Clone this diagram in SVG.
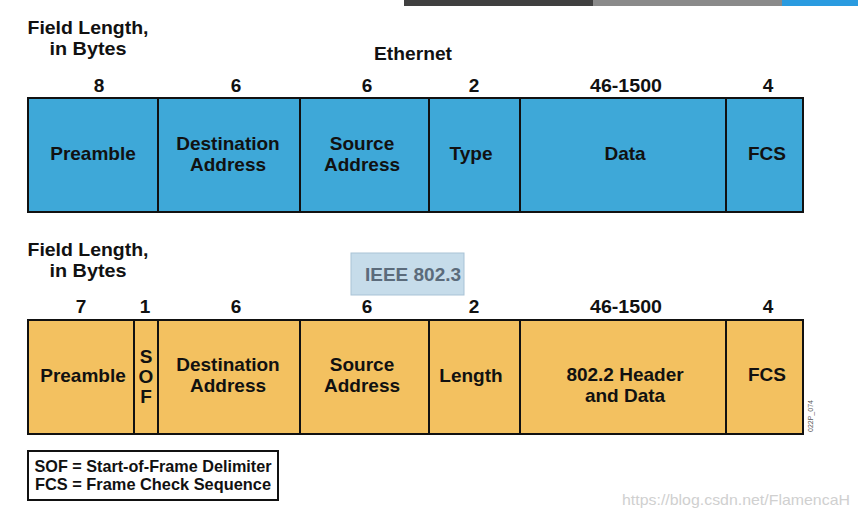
<svg xmlns="http://www.w3.org/2000/svg" width="858" height="519" viewBox="0 0 858 519">
<style>
.lbl{font-family:"Liberation Sans",Arial,sans-serif;font-weight:bold;font-size:19px;fill:#111;text-anchor:middle}
.hdr{font-family:"Liberation Sans Narrow","Liberation Sans",Arial,sans-serif;font-weight:bold;font-size:19px;fill:#111;text-anchor:middle}
.num{font-family:"Liberation Sans Narrow","Liberation Sans",Arial,sans-serif;font-weight:bold;font-size:19px;fill:#111;text-anchor:middle}
.blue{fill:#3ea8d8;stroke:#111;stroke-width:2}
.orange{fill:#f3c160;stroke:#111;stroke-width:2}
.div{stroke:#111;stroke-width:2}
</style>
<rect width="858" height="519" fill="#fff"/>
<rect x="404" y="0" width="189" height="6" fill="#404040"/>
<rect x="593" y="0" width="189" height="6" fill="#8a8a8a"/>
<rect x="782" y="0" width="76" height="6" fill="#2a9be0"/>

<g id="ethernet-header">
<text class="hdr" x="88" y="34" textLength="121" lengthAdjust="spacingAndGlyphs">Field Length,</text>
<text class="hdr" x="88" y="55" textLength="77" lengthAdjust="spacingAndGlyphs">in Bytes</text>
<text class="hdr" x="413" y="60" textLength="78" lengthAdjust="spacingAndGlyphs">Ethernet</text>
<text class="num" x="99" y="92">8</text>
<text class="num" x="236" y="92">6</text>
<text class="num" x="367" y="92">6</text>
<text class="num" x="474" y="92">2</text>
<text class="num" x="626" y="92" textLength="72" lengthAdjust="spacingAndGlyphs">46-1500</text>
<text class="num" x="768" y="92">4</text>
</g>

<g id="ethernet-frame">
<rect class="blue" x="28" y="98" width="775" height="114"/>
<line class="div" x1="158" y1="98" x2="158" y2="212"/>
<line class="div" x1="300" y1="98" x2="300" y2="212"/>
<line class="div" x1="429" y1="98" x2="429" y2="212"/>
<line class="div" x1="520" y1="98" x2="520" y2="212"/>
<line class="div" x1="726" y1="98" x2="726" y2="212"/>
<text class="lbl" x="93" y="160">Preamble</text>
<text class="lbl" x="228" y="150">Destination</text>
<text class="lbl" x="228" y="171">Address</text>
<text class="lbl" x="362" y="150">Source</text>
<text class="lbl" x="362" y="171">Address</text>
<text class="lbl" x="471" y="160">Type</text>
<text class="lbl" x="625" y="160">Data</text>
<text class="lbl" x="767" y="160">FCS</text>
</g>

<g id="ieee-header">
<text class="hdr" x="88" y="256" textLength="121" lengthAdjust="spacingAndGlyphs">Field Length,</text>
<text class="hdr" x="88" y="277" textLength="77" lengthAdjust="spacingAndGlyphs">in Bytes</text>
<rect x="351" y="253" width="113" height="42" fill="#c6dcea" stroke="#a9c3d6" stroke-width="1"/>
<text x="413" y="281" style="font-family:'Liberation Sans',Arial,sans-serif;font-weight:bold;font-size:19px;fill:#5b6b7b;text-anchor:middle">IEEE 802.3</text>
<text class="num" x="81" y="313">7</text>
<text class="num" x="145" y="313">1</text>
<text class="num" x="236" y="313">6</text>
<text class="num" x="367" y="313">6</text>
<text class="num" x="474" y="313">2</text>
<text class="num" x="626" y="313" textLength="72" lengthAdjust="spacingAndGlyphs">46-1500</text>
<text class="num" x="768" y="313">4</text>
</g>

<g id="ieee-frame">
<rect class="orange" x="28" y="320" width="775" height="114"/>
<line class="div" x1="134" y1="320" x2="134" y2="434"/>
<line class="div" x1="158" y1="320" x2="158" y2="434"/>
<line class="div" x1="300" y1="320" x2="300" y2="434"/>
<line class="div" x1="429" y1="320" x2="429" y2="434"/>
<line class="div" x1="520" y1="320" x2="520" y2="434"/>
<line class="div" x1="726" y1="320" x2="726" y2="434"/>
<text class="lbl" x="83" y="382">Preamble</text>
<text class="lbl" x="146" y="363">S</text>
<text class="lbl" x="146" y="383">O</text>
<text class="lbl" x="146" y="403">F</text>
<text class="lbl" x="228" y="371">Destination</text>
<text class="lbl" x="228" y="392">Address</text>
<text class="lbl" x="362" y="371">Source</text>
<text class="lbl" x="362" y="392">Address</text>
<text class="lbl" x="471" y="382">Length</text>
<text class="lbl" x="625" y="381">802.2 Header</text>
<text class="lbl" x="625" y="402">and Data</text>
<text class="lbl" x="767" y="381">FCS</text>
<text x="0" y="0" transform="translate(813,432) rotate(-90)" style="font-family:'Liberation Sans',Arial,sans-serif;font-size:7px;fill:#555">022P_074</text>
</g>

<g id="legend">
<rect x="28" y="451" width="250" height="49" fill="#fff" stroke="#111" stroke-width="2"/>
<text class="hdr" x="153" y="472" style="font-size:17px" textLength="237" lengthAdjust="spacingAndGlyphs">SOF = Start-of-Frame Delimiter</text>
<text class="hdr" x="153" y="490" style="font-size:17px" textLength="236" lengthAdjust="spacingAndGlyphs">FCS = Frame Check Sequence</text>
</g>

<text x="850" y="505" style="font-family:'Liberation Sans',Arial,sans-serif;font-size:15px;fill:#d0d0d0;text-anchor:end" textLength="228" lengthAdjust="spacingAndGlyphs">https://blog.csdn.net/FlamencaH</text>
</svg>
